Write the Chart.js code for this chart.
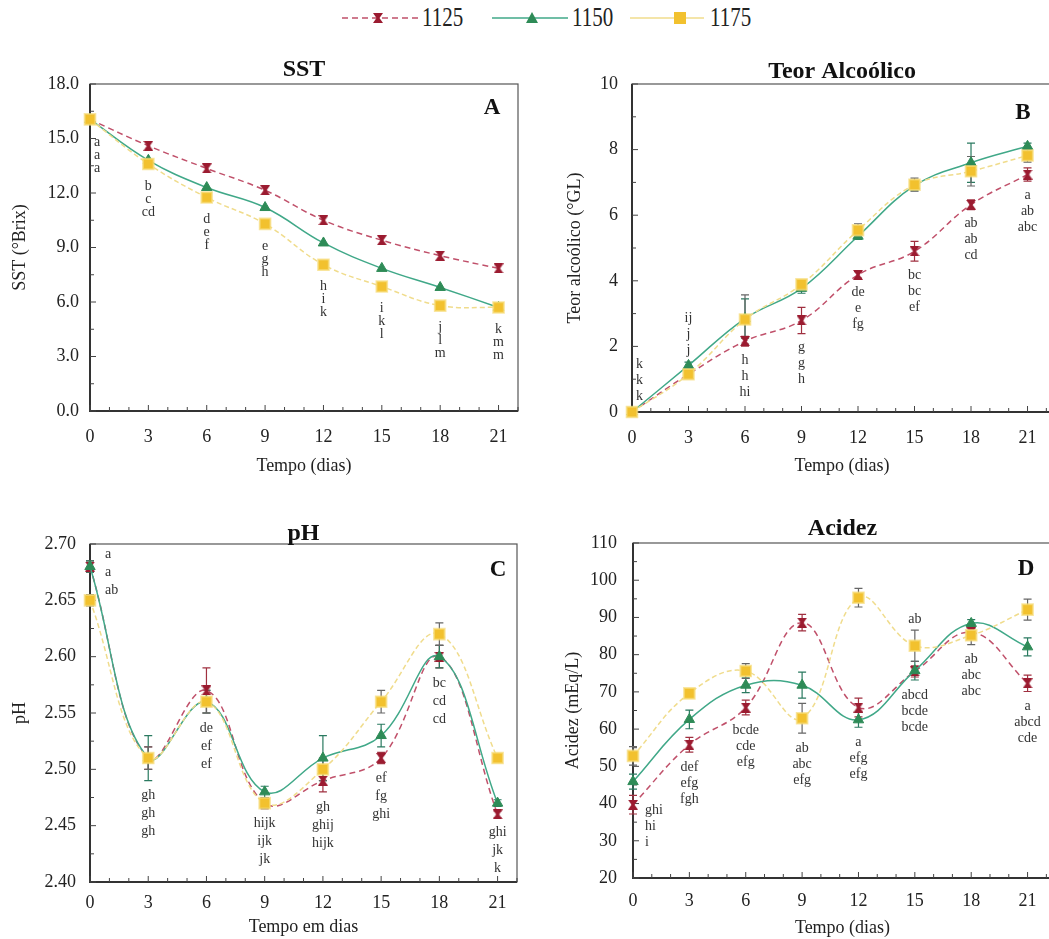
<!DOCTYPE html>
<html>
<head>
<meta charset="utf-8">
<script src="https://cdn.jsdelivr.net/npm/chart.js@4/dist/chart.umd.min.js"></script>
<style>
  html, body { margin: 0; padding: 0; background: #fff; overflow: hidden; width: 1049px; height: 939px; }
  canvas { position: absolute; }
  .leg { position: absolute; top: 8px; }
  .legtxt { position: absolute; top: 6px; font-family: 'Liberation Serif', serif; font-size: 21px; color: #222;
            transform: scaleY(1.25); transform-origin: left center; line-height: 22px; }
</style>
</head>
<body>

<svg class="leg" style="left:340px" width="80" height="20">
  <line x1="2" y1="10" x2="78" y2="10" stroke="#c0506a" stroke-width="1.5" stroke-dasharray="6,4"/>
  <path d="M33 5 H43 L39.5 10 L43 15 H33 L36.5 10 Z" fill="#9b1b30"/>
</svg>
<div class="legtxt" style="left:422px">1125</div>
<svg class="leg" style="left:490px" width="80" height="20">
  <line x1="2" y1="10" x2="78" y2="10" stroke="#40a888" stroke-width="1.5"/>
  <path d="M42 4 L48 15 L36 15 Z" fill="#2e8b57"/>
</svg>
<div class="legtxt" style="left:572px">1150</div>
<svg class="leg" style="left:628px" width="80" height="20">
  <line x1="2" y1="10" x2="76" y2="10" stroke="#f0dc8c" stroke-width="1.5"/>
  <rect x="46" y="4" width="12" height="12" fill="#f2c12e"/>
</svg>
<div class="legtxt" style="left:710px">1175</div>

<canvas id="cA" width="530" height="427" style="left:0px;top:50px"></canvas>
<canvas id="cB" width="540" height="427" style="left:525px;top:50px"></canvas>
<canvas id="cC" width="530" height="433" style="left:0px;top:505px"></canvas>
<canvas id="cD" width="540" height="434" style="left:525px;top:505px"></canvas>

<script>
const SERIF = "'Liberation Serif', 'DejaVu Serif', serif";

// days of fermentation
const days = [0, 3, 6, 9, 12, 15, 18, 21];
const noErr = [0, 0, 0, 0, 0, 0, 0, 0];

// A - SST (°Brix)
const sst1125 = [16.05, 14.6, 13.35, 12.15, 10.5, 9.4, 8.55, 7.85];
const sst1150 = [16.05, 13.8, 12.3, 11.2, 9.25, 7.85, 6.8, 5.7];
const sst1175 = [16.05, 13.6, 11.75, 10.3, 8.05, 6.85, 5.8, 5.7];
const sstLetters = [["a","a","a"], ["b","c","cd"], ["d","e","f"], ["e","g","h"],
                    ["h","i","k"], ["i","k","l"], ["j","l","m"], ["k","m","m"]];

// B - Teor alcoólico (°GL)
const alc1125 = [0, 1.15, 2.16, 2.79, 4.18, 4.9, 6.32, 7.24];
const alc1150 = [0, 1.42, 2.85, 3.77, 5.36, 6.9, 7.6, 8.1];
const alc1175 = [0, 1.15, 2.82, 3.89, 5.54, 6.93, 7.34, 7.82];
const alcErr1125 = [0, 0.1, 0.15, 0.4, 0.1, 0.3, 0.15, 0.2];
const alcErr1150 = [0, 0.1, 0.6, 0.15, 0.1, 0.15, 0.6, 0.1];
const alcErr1175 = [0, 0.1, 0.75, 0.1, 0.2, 0.2, 0.45, 0.2];
const alcLetters = [["k","k","k"], ["ij","j","j"], ["h","h","hi"], ["g","g","h"],
                    ["de","e","fg"], ["bc","bc","ef"], ["ab","ab","cd"], ["a","ab","abc"]];

// C - pH
const ph1125 = [2.68, 2.51, 2.57, 2.47, 2.49, 2.51, 2.60, 2.46];
const ph1150 = [2.68, 2.51, 2.56, 2.48, 2.51, 2.53, 2.60, 2.47];
const ph1175 = [2.65, 2.51, 2.56, 2.47, 2.50, 2.56, 2.62, 2.51];
const phErr1125 = [0.005, 0.01, 0.02, 0.005, 0.01, 0.005, 0.01, 0.003];
const phErr1150 = [0.005, 0.02, 0.01, 0.005, 0.02, 0.01, 0.01, 0.003];
const phErr1175 = [0.005, 0.01, 0.01, 0.005, 0.01, 0.01, 0.01, 0.003];
const phLetters = [["a","a","ab"], ["gh","gh","gh"], ["de","ef","ef"], ["hijk","ijk","jk"],
                   ["gh","ghij","hijk"], ["ef","fg","ghi"], ["bc","cd","cd"], ["ghi","jk","k"]];

// D - Acidez (mEq/L)
const acid1125 = [39.7, 55.8, 65.8, 88.6, 65.8, 75.5, 86.0, 72.3];
const acid1150 = [45.9, 62.6, 71.8, 71.8, 62.5, 75.7, 88.4, 82.1];
const acid1175 = [52.8, 69.6, 75.6, 62.9, 95.3, 82.4, 85.2, 92.1];
const acidErr1125 = [2.5, 2, 2, 2.2, 2.5, 1.5, 1.5, 2.2];
const acidErr1150 = [2, 2.5, 2, 3.5, 2, 2.5, 1, 2.4];
const acidErr1175 = [2.5, 1, 2, 4, 2.5, 4.2, 2.5, 2.8];
const acidLetters = [["ghi","hi","i"], ["def","efg","fgh"], ["bcde","cde","efg"], ["ab","abc","efg"],
                     ["a","efg","efg"], ["abcd","bcde","bcde"], ["ab","abc","abc"], ["a","abcd","cde"]];
const acidLettersTop = ["", "", "", "", "", "ab", "", ""];

// marker for 1125
function bowtie(color, size) {
  const c = document.createElement('canvas');
  c.width = size; c.height = size;
  const g = c.getContext('2d');
  g.fillStyle = color;
  g.beginPath();
  g.moveTo(0, 0); g.lineTo(size, 0); g.lineTo(size / 2 + 1.5, size / 2);
  g.lineTo(size, size); g.lineTo(0, size); g.lineTo(size / 2 - 1.5, size / 2);
  g.closePath(); g.fill();
  return c;
}
const redMark = bowtie('#9b1b30', 10);

const styles = [
  { label: '1125', borderColor: '#c0506a', borderDash: [6, 4], pointStyle: redMark, pointRadius: 5,
    pointBackgroundColor: '#9b1b30', pointBorderColor: '#9b1b30', errColor: '#a03040', order: 2 },
  { label: '1150', borderColor: '#40a888', borderDash: [], pointStyle: 'triangle', pointRadius: 6,
    pointBackgroundColor: '#2e8b57', pointBorderColor: '#2e8b57', errColor: '#2a7a60', order: 1 },
  { label: '1175', borderColor: '#f0dc8c', borderDash: [5, 3], pointStyle: 'rect', pointRadius: 7.5,
    pointBackgroundColor: '#f2c12e', pointBorderColor: 'rgba(247,220,120,0.7)', errColor: '#666', order: 0 }
];

const panels = [
  { id: 'cA', title: 'SST', tag: 'A', series: [sst1125, sst1150, sst1175], errors: [noErr, noErr, noErr],
    letters: sstLetters, top: null, aboveDays: [],
    padTop: 34, padRight: 12, yAxisW: 90, xAxisH: 66, xMax: 22, yMin: 0, yMax: 18, yStep: 3, dec: 1,
    yTitle: 'SST (°Brix)', xTitle: 'Tempo (dias)', yTitlePad: 9, xTickPad: 15, yTickPad: 11,
    titleDy: 14, tagDx: 26, tagDy: 24, gap: 22, lineGap: 13, r0dx: 4, r0dy: 23 },
  { id: 'cB', title: 'Teor Alcoólico', tag: 'B', series: [alc1125, alc1150, alc1175],
    errors: [alcErr1125, alcErr1150, alcErr1175], letters: alcLetters, top: null, aboveDays: [3],
    padTop: 34, padRight: 13, yAxisW: 107, xAxisH: 65, xMax: 22.3, yMin: 0, yMax: 10, yStep: 2, dec: 0,
    yTitle: 'Teor alcoólico (°GL)', xTitle: 'Tempo (dias)', yTitlePad: 39, xTickPad: 15, yTickPad: 14,
    titleDy: 12, tagDx: 29, tagDy: 29, gap: 14, lineGap: 16, r0dx: 4, r0dy: -48 },
  { id: 'cC', title: 'pH', tag: 'C', series: [ph1125, ph1150, ph1175],
    errors: [phErr1125, phErr1150, phErr1175], letters: phLetters, top: null, aboveDays: [],
    padTop: 39, padRight: 13, yAxisW: 90, xAxisH: 56, xMax: 22, yMin: 2.4, yMax: 2.7, yStep: 0.05, dec: 2,
    yTitle: 'pH', xTitle: 'Tempo em dias', yTitlePad: 9, xTickPad: 10, yTickPad: 14,
    titleDy: 10, tagDx: 19, tagDy: 26, gap: 15, lineGap: 18, r0dx: 15, r0dy: -12 },
  { id: 'cD', title: 'Acidez', tag: 'D', series: [acid1125, acid1150, acid1175],
    errors: [acidErr1125, acidErr1150, acidErr1175], letters: acidLetters, top: acidLettersTop, aboveDays: [],
    padTop: 38, padRight: 13, yAxisW: 108, xAxisH: 61, xMax: 22.3, yMin: 20, yMax: 110, yStep: 10, dec: 0,
    yTitle: 'Acidez (mEq/L)', xTitle: 'Tempo (dias)', yTitlePad: 37, xTickPad: 12, yTickPad: 16,
    titleDy: 14, tagDx: 26, tagDy: 26, gap: 15, lineGap: 16, r0dx: 12, r0dy: 54 }
];

function decor(p) {
  return {
    id: 'decor',
    beforeDatasetsDraw(chart) {
      const { ctx, chartArea: a, scales: { x, y } } = chart;
      ctx.save();
      ctx.strokeStyle = '#555'; ctx.lineWidth = 1.2;
      ctx.strokeRect(a.left, a.top, a.right - a.left, a.bottom - a.top);
      ctx.strokeStyle = '#333'; ctx.lineWidth = 2;
      ctx.beginPath();
      ctx.moveTo(a.left, a.top); ctx.lineTo(a.left, a.bottom); ctx.lineTo(a.right, a.bottom);
      ctx.stroke();
      // inward ticks, major + minor
      ctx.strokeStyle = '#444'; ctx.lineWidth = 1;
      ctx.beginPath();
      for (let d = 0; d <= p.xMax; d++) {
        const px = x.getPixelForValue(d);
        const len = d % 3 === 0 ? 6 : 4;
        ctx.moveTo(px, a.bottom); ctx.lineTo(px, a.bottom - len);
      }
      const half = p.yStep / 2;
      for (let k = 0; p.yMin + k * half <= p.yMax + 1e-9; k++) {
        const py = y.getPixelForValue(p.yMin + k * half);
        const len = k % 2 === 0 ? 6 : 4;
        ctx.moveTo(a.left, py); ctx.lineTo(a.left + len, py);
      }
      ctx.stroke();
      // error bars
      chart.data.datasets.forEach(ds => {
        ctx.strokeStyle = ds.errColor; ctx.lineWidth = 1.2;
        ds.data.forEach((pt, j) => {
          const e = ds.errors[j];
          if (!e) return;
          const px = x.getPixelForValue(pt.x);
          const t = y.getPixelForValue(pt.y + e), b = y.getPixelForValue(pt.y - e);
          ctx.beginPath();
          ctx.moveTo(px, t); ctx.lineTo(px, b);
          ctx.moveTo(px - 4, t); ctx.lineTo(px + 4, t);
          ctx.moveTo(px - 4, b); ctx.lineTo(px + 4, b);
          ctx.stroke();
        });
      });
      ctx.restore();
    },
    afterDatasetsDraw(chart) {
      const { ctx, chartArea: a, scales: { x, y } } = chart;
      ctx.save();
      ctx.fillStyle = '#111';
      ctx.textAlign = 'center'; ctx.textBaseline = 'middle';
      ctx.font = `bold 24px ${SERIF}`;
      ctx.fillText(p.title, (a.left + a.right) / 2, a.top - p.titleDy);
      ctx.font = `bold 23px ${SERIF}`;
      ctx.fillText(p.tag, a.right - p.tagDx, a.top + p.tagDy);
      // significance letters
      ctx.font = `14px ${SERIF}`;
      ctx.fillStyle = '#333';
      p.letters.forEach((list, j) => {
        const d = days[j];
        const px = x.getPixelForValue(d);
        const lows = p.series.map((s, i) => y.getPixelForValue(s[j] - p.errors[i][j]));
        const highs = p.series.map((s, i) => y.getPixelForValue(s[j] + p.errors[i][j]));
        if (j === 0) {
          ctx.textAlign = 'left';
          const y0 = Math.min(...p.series.map(s => y.getPixelForValue(s[0]))) + p.r0dy;
          list.forEach((t, k) => ctx.fillText(t, px + p.r0dx, y0 + k * p.lineGap));
        } else if (p.aboveDays.includes(d)) {
          ctx.textAlign = 'center';
          const yb = Math.min(...highs) - 12;
          list.forEach((t, k) => ctx.fillText(t, px, yb - (list.length - 1 - k) * p.lineGap));
        } else {
          ctx.textAlign = 'center';
          const yt = Math.max(...lows) + p.gap;
          list.forEach((t, k) => ctx.fillText(t, px, yt + k * p.lineGap));
        }
        if (p.top && p.top[j]) {
          ctx.textAlign = 'center';
          ctx.fillText(p.top[j], px, Math.min(...highs) - 11);
        }
      });
      ctx.restore();
    }
  };
}

panels.forEach(p => {
  const datasets = p.series.map((vals, i) => Object.assign({}, styles[i], {
    data: days.map((d, j) => ({ x: d, y: vals[j] })),
    errors: p.errors[i],
    borderWidth: 1.5,
    pointBorderWidth: i === 2 ? 2 : 1,
    tension: 0.4,
    fill: false,
    clip: false
  }));
  new Chart(document.getElementById(p.id), {
    type: 'line',
    data: { datasets },
    options: {
      responsive: false,
      animation: false,
      devicePixelRatio: 1,
      layout: { padding: { top: p.padTop, right: p.padRight, left: 0, bottom: 0 } },
      plugins: { legend: { display: false }, tooltip: { enabled: false } },
      scales: {
        x: {
          type: 'linear', min: 0, max: p.xMax,
          afterFit: s => { s.height = p.xAxisH; },
          grid: { display: false, drawTicks: false }, border: { display: false },
          ticks: { stepSize: 3, includeBounds: false, maxRotation: 0, padding: p.xTickPad,
                   color: '#222', font: { family: SERIF, size: 18 },
                   callback: v => (v % 3 === 0 ? v : '') },
          title: { display: true, text: p.xTitle, color: '#222', font: { family: SERIF, size: 18 },
                   padding: { top: 0, bottom: 0 } }
        },
        y: {
          min: p.yMin, max: p.yMax,
          afterFit: s => { s.width = p.yAxisW; },
          grid: { display: false, drawTicks: false }, border: { display: false },
          ticks: { stepSize: p.yStep, padding: p.yTickPad, color: '#222', font: { family: SERIF, size: 18 },
                   callback: v => v.toFixed(p.dec) },
          title: { display: true, text: p.yTitle, color: '#222', font: { family: SERIF, size: 18 },
                   padding: { top: p.yTitlePad, bottom: 0 } }
        }
      }
    },
    plugins: [decor(p)]
  });
});
</script>
</body>
</html>
